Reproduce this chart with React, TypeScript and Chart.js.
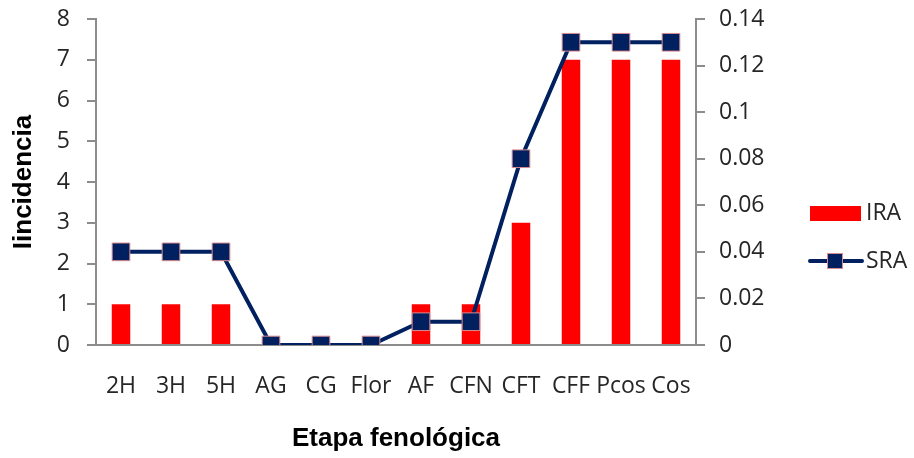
import React, { useEffect, useRef } from "react";
import { Chart, registerables } from "chart.js";

Chart.register(...registerables);

const categories = ["2H", "3H", "5H", "AG", "CG", "Flor", "AF", "CFN", "CFT", "CFF", "Pcos", "Cos"];
const iraValues = [1, 1, 1, 0, 0, 0, 1, 1, 3, 7, 7, 7];
const sraValues = [0.04, 0.04, 0.04, 0, 0, 0, 0.01, 0.01, 0.08, 0.13, 0.13, 0.13];
const seriesNames = ["IRA", "SRA"];
const xTitle = "Etapa fenológica";
const yTitle = "Iincidencia";

const RED = "#FF0000";
const NAVY = "#002060";
const MARKER_BORDER = "#D98C8F";
const AXIS = "#8C8C8C";
const TEXT = "#262626";
const FONT = "'Open Sans', sans-serif";
const TITLE_FONT = "'Liberation Sans', Arial, sans-serif";
const TICK_SIZE = 23;

const legendPlugin = {
  id: "customLegend",
  afterDraw(chart: any) {
    const ctx = chart.ctx;
    ctx.save();
    ctx.font = `${TICK_SIZE}px ${FONT}`;
    ctx.textBaseline = "middle";
    ctx.textAlign = "left";
    // IRA
    ctx.fillStyle = RED;
    ctx.fillRect(810, 206, 51, 15);
    ctx.fillStyle = TEXT;
    ctx.fillText(seriesNames[0], 866, 213);
    // SRA
    ctx.strokeStyle = NAVY;
    ctx.lineWidth = 4;
    ctx.lineCap = "round";
    ctx.beginPath();
    ctx.moveTo(810, 261);
    ctx.lineTo(862, 261);
    ctx.stroke();
    ctx.fillStyle = NAVY;
    ctx.fillRect(827, 253, 16, 16);
    ctx.strokeStyle = MARKER_BORDER;
    ctx.lineWidth = 1;
    ctx.strokeRect(827.5, 253.5, 15, 15);
    ctx.fillStyle = TEXT;
    ctx.fillText(seriesNames[1], 866, 261);
    ctx.restore();
  },
};

export default function App() {
  const ref = useRef<HTMLCanvasElement | null>(null);
  useEffect(() => {
    if (!ref.current) return;
    const chart = new Chart(ref.current, {
      type: "bar",
      data: {
        labels: categories,
        datasets: [
          {
            type: "line",
            label: seriesNames[1],
            data: sraValues,
            yAxisID: "y1",
            borderColor: NAVY,
            borderWidth: 4,
            pointStyle: "rect",
            pointRadius: 12.5,
            pointBackgroundColor: NAVY,
            pointBorderColor: MARKER_BORDER,
            pointBorderWidth: 1,
            tension: 0,
            order: 0,
          } as any,
          {
            type: "bar",
            label: seriesNames[0],
            data: iraValues,
            yAxisID: "y",
            backgroundColor: RED,
            categoryPercentage: 1,
            barPercentage: 0.37,
            order: 1,
          },
        ],
      },
      options: {
        animation: false,
        responsive: true,
        maintainAspectRatio: false,
        layout: { padding: { top: 19, left: 0, right: 0, bottom: 0 } },
        plugins: { legend: { display: false }, tooltip: { enabled: false } },
        scales: {
          x: {
            offset: true,
            grid: { display: false, drawTicks: false },
            border: { display: true, color: AXIS, width: 2 },
            ticks: { color: TEXT, font: { family: FONT, size: TICK_SIZE }, padding: 28, maxRotation: 0, autoSkip: false },
            title: {
              display: true,
              text: xTitle,
              color: "#000",
              font: { family: TITLE_FONT, size: 26, weight: "bold" },
              padding: { top: 0, bottom: 4 },
            },
            afterFit(scale: any) {
              scale.height = 113;
            },
          },
          y: {
            position: "left",
            min: 0,
            max: 8,
            grid: { drawOnChartArea: false, drawTicks: true, tickLength: 9, color: AXIS, lineWidth: 2 },
            border: { display: true, color: AXIS, width: 2 },
            ticks: { stepSize: 1, color: TEXT, font: { family: FONT, size: TICK_SIZE }, padding: 17 },
            title: {
              display: true,
              text: yTitle,
              color: "#000",
              font: { family: TITLE_FONT, size: 26, weight: "bold" },
              padding: { top: 8, bottom: 0 },
            },
            afterFit(scale: any) {
              scale.width = 96;
              scale.paddingTop = 0;
              scale.paddingBottom = 0;
            },
          },
          y1: {
            position: "right",
            min: 0,
            max: 0.14,
            grid: { drawOnChartArea: false, drawTicks: true, tickLength: 9, color: AXIS, lineWidth: 2 },
            border: { display: true, color: AXIS, width: 2 },
            ticks: {
              stepSize: 0.02,
              color: TEXT,
              font: { family: FONT, size: TICK_SIZE },
              padding: 14,
              callback: (v: any) => String(Number(Number(v).toFixed(2))),
            },
            afterFit(scale: any) {
              scale.width = 218;
              scale.paddingTop = 0;
              scale.paddingBottom = 0;
            },
          },
        },
      },
      plugins: [legendPlugin],
    });
    return () => chart.destroy();
  }, []);
  return (
    <div style={{ position: "fixed", left: 0, top: 0, width: 914, height: 458, background: "#fff" }}>
      <canvas ref={ref} />
    </div>
  );
}
